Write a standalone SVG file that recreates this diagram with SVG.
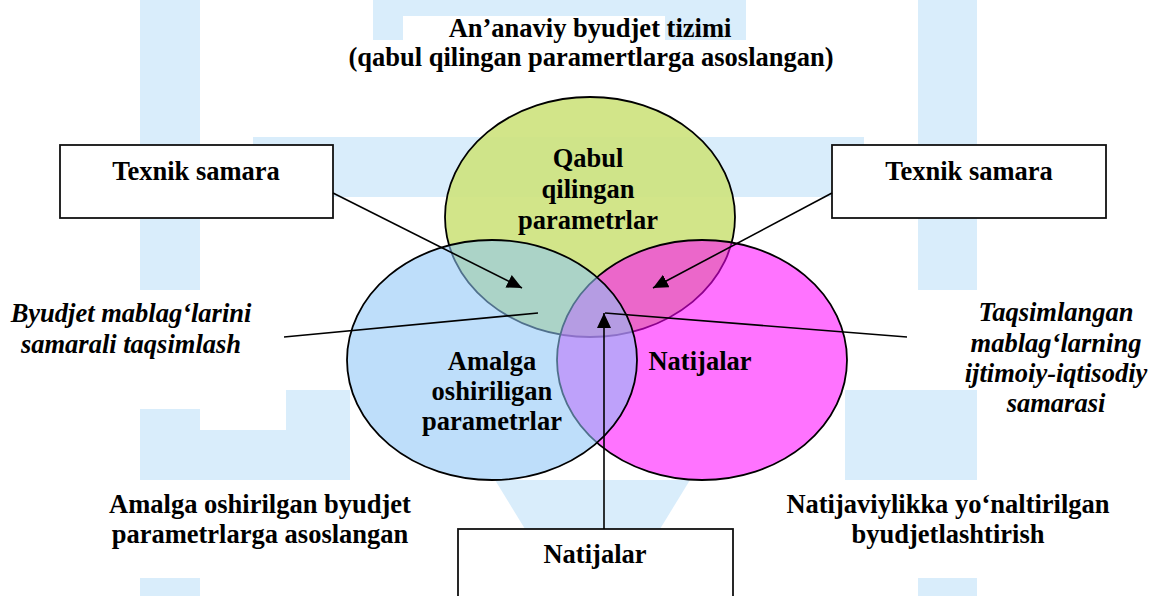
<svg xmlns="http://www.w3.org/2000/svg" width="1152" height="596" viewBox="0 0 1152 596">
  <defs>
    <style>
      text { font-family: 'Liberation Serif', 'Times New Roman', serif; font-weight: 700; font-size: 26.5px; fill: #000; text-anchor: middle; }
      .i { font-style: italic; }
      .box { fill: #fff; stroke: #111; stroke-width: 1.8; }
      .ell { stroke: #000; stroke-width: 1.8; }
      .wm { fill: #d9edfb; }
      .conn { stroke: #000; stroke-width: 1.6; fill: none; }
    </style>
    <marker id="arr" markerUnits="userSpaceOnUse" markerWidth="16" markerHeight="14" refX="15" refY="7" orient="auto">
      <path d="M0,0 L15,7 L0,14 Z" fill="#000"/>
    </marker>
  </defs>
  <rect width="1152" height="596" fill="#fff"/>
  <g id="watermark">
    <rect class="wm" x="140" y="0" width="60" height="290"/>
    <rect class="wm" x="918" y="0" width="59" height="290"/>
    <rect class="wm" x="253" y="137" width="611" height="60"/>
    <rect class="wm" x="373" y="0" width="30" height="40"/>
    <rect class="wm" x="403" y="0" width="343" height="16"/>
    <rect class="wm" x="665" y="0" width="81" height="40"/>
    <rect class="wm" x="140" y="409" width="60" height="71"/>
    <polygon class="wm" points="200,430 286,430 286,390 350,390 350,480 200,480"/>
    <polygon class="wm" points="845,390 977,390 977,480 845,480"/>
    <polygon class="wm" points="495,480 690,480 660,529 525,529"/>
    <rect class="wm" x="140" y="578" width="60" height="18"/>
    <rect class="wm" x="918" y="578" width="59" height="18"/>
  </g>
  <g id="title">
    <text x="590" y="37">An’anaviy byudjet tizimi</text>
    <text x="591" y="66">(qabul qilingan paramertlarga asoslangan)</text>
  </g>
  <g id="green">
    <ellipse class="ell" cx="590" cy="217" rx="145" ry="120" fill="#cde27c" fill-opacity="0.9"/>
  </g>
  <g id="pink">
    <ellipse class="ell" cx="702" cy="360" rx="145" ry="120" fill="#ff00ff" fill-opacity="0.55"/>
  </g>
  <g id="blue">
    <ellipse class="ell" cx="492" cy="360" rx="145" ry="120" fill="#8dc5f6" fill-opacity="0.57"/>
  </g>
  <g id="green-label">
    <text x="588" y="167">Qabul</text>
    <text x="588" y="198">qilingan</text>
    <text x="588" y="229">parametrlar</text>
  </g>
  <g id="blue-label">
    <text x="492" y="370">Amalga</text>
    <text x="492" y="400">oshiriligan</text>
    <text x="492" y="430">parametrlar</text>
  </g>
  <g id="pink-label">
    <text x="700" y="370">Natijalar</text>
  </g>
  <g id="box-left">
    <rect class="box" x="60" y="145" width="273" height="73"/>
    <text x="196" y="180">Texnik samara</text>
  </g>
  <g id="box-right">
    <rect class="box" x="832" y="145" width="274" height="73"/>
    <text x="969" y="180">Texnik samara</text>
  </g>
  <g id="box-bottom">
    <rect class="box" x="458" y="529" width="275" height="80"/>
    <text x="595" y="563">Natijalar</text>
  </g>
  <g id="label-left">
    <text class="i" x="131" y="322">Byudjet mablag‘larini</text>
    <text class="i" x="131" y="353">samarali taqsimlash</text>
  </g>
  <g id="label-right">
    <text class="i" x="1056" y="321">Taqsimlangan</text>
    <text class="i" x="1056" y="352">mablag‘larning</text>
    <text class="i" x="1056" y="382">ijtimoiy-iqtisodiy</text>
    <text class="i" x="1056" y="412">samarasi</text>
  </g>
  <g id="label-bottom-left">
    <text x="260" y="513">Amalga oshirilgan byudjet</text>
    <text x="260" y="543">parametrlarga asoslangan</text>
  </g>
  <g id="label-bottom-right">
    <text x="948" y="513">Natijaviylikka yo‘naltirilgan</text>
    <text x="948" y="543">byudjetlashtirish</text>
  </g>
  <g id="connectors">
    <line class="conn" x1="333" y1="193" x2="522" y2="288" marker-end="url(#arr)"/>
    <line class="conn" x1="832" y1="193" x2="653" y2="288" marker-end="url(#arr)"/>
    <line class="conn" x1="604" y1="529" x2="604" y2="313" marker-end="url(#arr)"/>
    <line class="conn" x1="284" y1="337" x2="538" y2="313"/>
    <line class="conn" x1="605" y1="313" x2="907" y2="337"/>
  </g>
</svg>
